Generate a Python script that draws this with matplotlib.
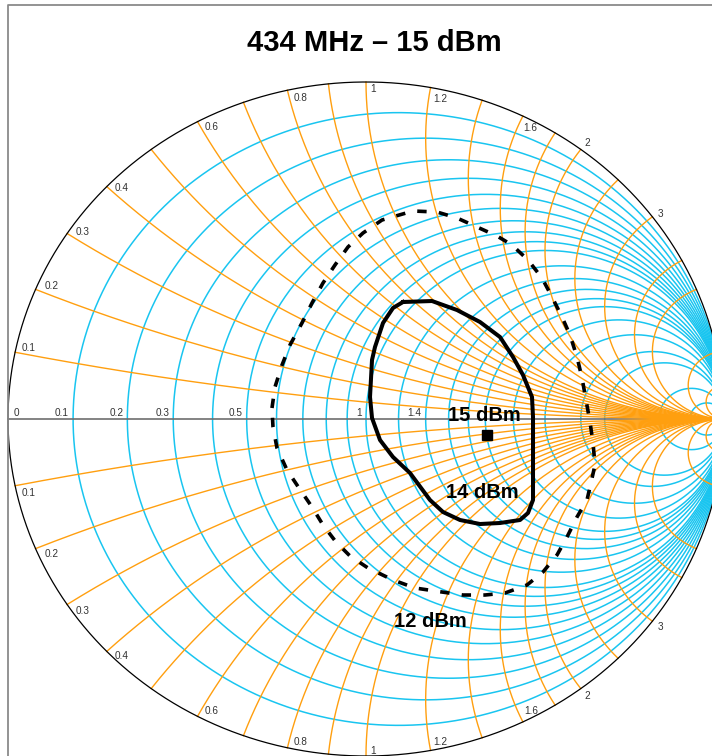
import numpy as np
import matplotlib
matplotlib.use("Agg")
import matplotlib.pyplot as plt

# ---------------- data ----------------
title = "434 MHz \u2013 15 dBm"

# Smith-chart grid values (normalised resistance / reactance)
r_grid = [0.1, 0.2, 0.3, 0.4, 0.5, 0.6, 0.7, 0.8, 0.9, 1.0,
          1.2, 1.4, 1.6, 1.8, 2.0, 2.4, 3.0, 4.0, 5.0, 10.0, 20.0]
x_grid = [0.1, 0.2, 0.3, 0.4, 0.5, 0.6, 0.7, 0.8, 0.9, 1.0,
          1.2, 1.4, 1.6, 1.8, 2.0, 2.4, 3.0, 4.0, 5.0, 10.0, 20.0]

r_label_values = [0, 0.1, 0.2, 0.3, 0.5, 1, 1.4]
r_label_texts = ["0", "0.1", "0.2", "0.3", "0.5", "1", "1.4"]
x_label_values = [0.1, 0.2, 0.3, 0.4, 0.6, 0.8, 1, 1.2, 1.6, 2, 3]
x_label_texts = ["0.1", "0.2", "0.3", "0.4", "0.6", "0.8", "1", "1.2", "1.6", "2", "3"]

# 14 dBm contour (reflection coefficient, real / imaginary)
c14_re = [0.1034, 0.1844, 0.2542, 0.3184, 0.3743, 0.4106, 0.4385, 0.4637,
          0.4665, 0.4665, 0.4665, 0.4525, 0.4302, 0.3743, 0.3184, 0.2626,
          0.2151, 0.1788, 0.1229, 0.0754, 0.0391, 0.0168, 0.0112, 0.0168,
          0.0251, 0.0475, 0.0754, 0.1034]
c14_im = [0.3472, 0.3501, 0.3234, 0.2878, 0.2433, 0.1840, 0.1306, 0.0653,
          0.0059, -0.0920, -0.2404, -0.2789, -0.2997, -0.3086, -0.3116, -0.2997,
          -0.2760, -0.2404, -0.1602, -0.1128, -0.0623, 0.0030, 0.0653, 0.1751,
          0.2136, 0.2849, 0.3294, 0.3472]

# 12 dBm contour
c12_re = [-0.2626, -0.2542, -0.2346, -0.2123, -0.1788, -0.1508, -0.1201, -0.0866,
          -0.0503, -0.0084, 0.0447, 0.1313, 0.1983, 0.2542, 0.3101, 0.3659,
          0.4078, 0.4525, 0.4916, 0.5196, 0.5475, 0.5698, 0.5894, 0.6034,
          0.6145, 0.6257, 0.6341, 0.6397, 0.6257, 0.6173, 0.5894, 0.5615,
          0.5335, 0.4944, 0.4497, 0.3883, 0.3324, 0.2709, 0.2123, 0.1369,
          0.0754, 0.0056, -0.0447, -0.0838, -0.1201, -0.1508, -0.1872, -0.2207,
          -0.2486, -0.2598, -0.2626]
c12_im = [0.0326, 0.0950, 0.1602, 0.2196, 0.2849, 0.3442, 0.4036, 0.4570,
          0.5104, 0.5519, 0.5905, 0.6172, 0.6142, 0.5964, 0.5697, 0.5430,
          0.5163, 0.4718, 0.4184, 0.3620, 0.3027, 0.2493, 0.1840, 0.1217,
          0.0564, -0.0089, -0.0712, -0.1365, -0.2018, -0.2404, -0.2908, -0.3501,
          -0.4036, -0.4540, -0.4926, -0.5163, -0.5223, -0.5223, -0.5134, -0.5015,
          -0.4777, -0.4421, -0.4065, -0.3650, -0.3145, -0.2611, -0.2047, -0.1513,
          -0.0861, -0.0237, 0.0326]

# 15 dBm optimum point
opt_re = [0.338]
opt_im = [-0.0475]

contour_names = ["15 dBm", "14 dBm", "12 dBm"]

# ---------------- layout / style ----------------
W, H = 712, 756
CX, CY, RX, RY = 366.0, 419.0, 358.0, 337.0   # chart centre and radii in pixels
CYAN = "#19C5F0"
ORANGE = "#FF9F0F"
LABEL_C = "#333333"
FONT = "Liberation Sans"
LFS = 7.2

fig = plt.figure(figsize=(W / 100, H / 100), dpi=100)
ax = fig.add_axes([0, 0, 1, 1])
ax.set_xlim(-CX / RX, (W - CX) / RX)
ax.set_ylim((CY - H) / RY, CY / RY)
ax.axis("off")

# constant-resistance circles
th = np.linspace(0, 2 * np.pi, 721)
for r in r_grid:
    c = r / (1 + r)
    rad = 1 / (1 + r)
    ax.plot(c + rad * np.cos(th), rad * np.sin(th), color=CYAN, lw=1.1, zorder=1)

# real axis
ax.plot([-1, 1], [0, 0], color="#6E6E6E", lw=1.2, zorder=1.5)

# constant-reactance arcs
rr = np.concatenate([[0.0], np.logspace(-3, 4, 900)])
for xv in x_grid:
    for s in (1, -1):
        z = rr + 1j * s * xv
        g = (z - 1) / (z + 1)
        ax.plot(g.real, g.imag, color=ORANGE, lw=1.0, zorder=2)

# outer circle
ax.plot(np.cos(th), np.sin(th), color="black", lw=0.9, zorder=3)

# resistance labels on the real axis
for rv, txt in zip(r_label_values, r_label_texts):
    gx = (rv - 1) / (rv + 1)
    if rv == 0:
        ax.annotate(txt, (gx, 0), xytext=(6 * 0.72, 3 * 0.72), textcoords="offset points",
                    ha="left", va="baseline", fontsize=LFS, color=LABEL_C, family=FONT, zorder=4)
    else:
        ax.annotate(txt, (gx, 0), xytext=(-4 * 0.72, 3 * 0.72), textcoords="offset points",
                    ha="right", va="baseline", fontsize=LFS, color=LABEL_C, family=FONT, zorder=4)

# reactance labels around the rim (pixel offsets: dx, dy-up of the label centre)
upper_off = [(7, 4.5), (9, 4), (9, 1.5), (8, -1), (7, -4.5), (6, -7.5),
             (4, -7), (3, -11), (0, -11.5), (4, 7), (5, 3)]
lower_off = [(7, -7), (9, -5), (9, -5.5), (8, -4.5), (7, 5.5), (6, 6),
             (4, 5.5), (3, 9), (1, 11.5), (4, -6.5), (5, -5)]
cap = 7.0
for xv, txt, uo, lo in zip(x_label_values, x_label_texts, upper_off, lower_off):
    for s, off in ((1, uo), (-1, lo)):
        g = ((xv ** 2 - 1) + 2j * s * xv) / (xv ** 2 + 1)
        ax.annotate(txt, (g.real, g.imag),
                    xytext=(off[0] * 0.72, (off[1] - cap / 2) * 0.72),
                    textcoords="offset points", ha="left", va="baseline",
                    fontsize=LFS, color=LABEL_C, family=FONT, zorder=4)

# contours
ax.plot(c14_re, c14_im, color="black", lw=2.9, solid_joinstyle="round", zorder=5)
ax.plot(c12_re, c12_im, color="black", lw=2.6, linestyle=(0, (2.6, 3.4)), zorder=5)
ax.plot(opt_re, opt_im, marker="s", color="black", markersize=7.2, linestyle="none", zorder=6)

label_pos = [(0.3296, -0.0059), (0.324, -0.2344), (0.1802, -0.6172)]
for name, (lx, ly) in zip(contour_names, label_pos):
    ax.text(lx, ly, name, ha="center", va="baseline", fontsize=14.5,
            fontweight="bold", family=FONT, color="black", zorder=7)

# outer frame (left and top edges visible)
ax.plot([8 / W, 8 / W, 1.0], [0.0, 1 - 5 / H, 1 - 5 / H], transform=ax.transAxes,
        color="#8A8A8A", lw=1.3, clip_on=False, zorder=8)

fig.text(374.5 / W, 1 - 51 / H, title, ha="center", va="baseline",
         fontsize=21, fontweight="bold", family=FONT, color="black")

fig.savefig("out.png", dpi=100)
